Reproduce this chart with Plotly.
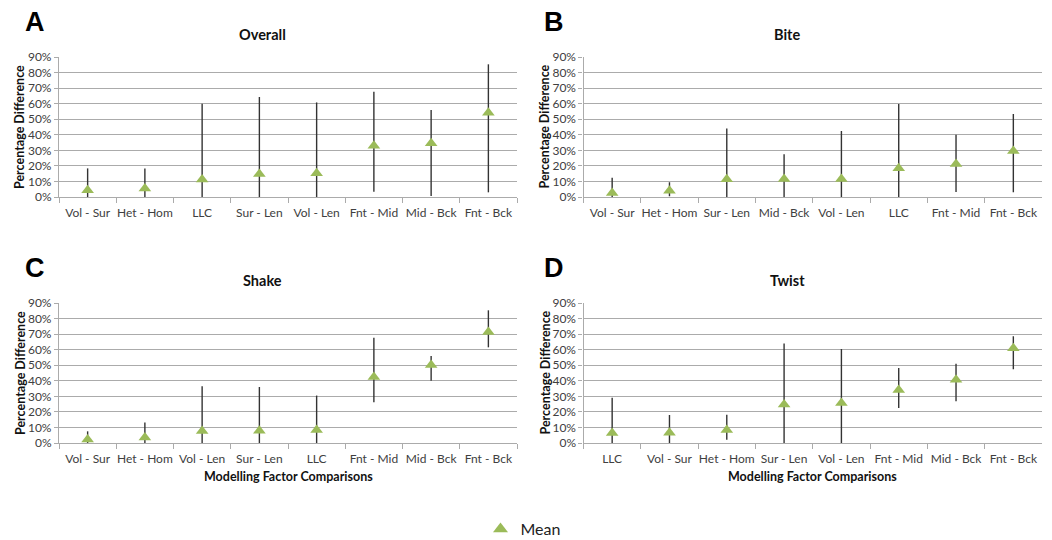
import plotly.graph_objects as go

W, H = 1052, 540

# ---------------- data ----------------
overall_cats = ["Vol - Sur", "Het - Hom", "LLC", "Sur - Len", "Vol - Len", "Fnt - Mid", "Mid - Bck", "Fnt - Bck"]
overall_mean = [4.3, 5.5, 11.3, 14.8, 15.3, 33.0, 34.5, 54.2]
overall_low = [0, 0, 0, 0, 0, 3.4, 0.6, 3.0]
overall_high = [18.4, 18.4, 60.0, 64.3, 60.8, 67.7, 56.0, 85.3]

bite_cats = ["Vol - Sur", "Het - Hom", "Sur - Len", "Mid - Bck", "Vol - Len", "LLC", "Fnt - Mid", "Fnt - Bck"]
bite_mean = [2.6, 4.0, 11.4, 11.6, 11.6, 18.5, 21.2, 29.6]
bite_low = [0, 0.5, 0, 0, 0, 0, 3.2, 3.0]
bite_high = [12.4, 9.5, 44.0, 27.5, 42.5, 59.8, 40.0, 53.3]

shake_cats = ["Vol - Sur", "Het - Hom", "Vol - Len", "Sur - Len", "LLC", "Fnt - Mid", "Mid - Bck", "Fnt - Bck"]
shake_mean = [2.2, 3.5, 7.7, 7.9, 8.4, 42.5, 50.2, 71.4]
shake_low = [0, 0, 0, 0, 0, 26.2, 40.0, 61.5]
shake_high = [7.5, 13.1, 36.5, 36.0, 30.5, 67.7, 56.0, 85.3]

twist_cats = ["LLC", "Vol - Sur", "Het - Hom", "Sur - Len", "Vol - Len", "Fnt - Mid", "Mid - Bck", "Fnt - Bck"]
twist_mean = [6.4, 6.6, 8.3, 24.7, 25.7, 34.0, 40.7, 60.9]
twist_low = [0, 0, 2.1, 0, 0, 22.5, 26.8, 47.4]
twist_high = [29.1, 18.0, 18.2, 63.9, 60.4, 48.2, 51.0, 68.6]

y_ticks = [0, 10, 20, 30, 40, 50, 60, 70, 80, 90]
y_tick_labels = ["0%", "10%", "20%", "30%", "40%", "50%", "60%", "70%", "80%", "90%"]

panels = [
    ("A", "Overall", overall_cats, overall_mean, overall_low, overall_high),
    ("B", "Bite", bite_cats, bite_mean, bite_low, bite_high),
    ("C", "Shake", shake_cats, shake_mean, shake_low, shake_high),
    ("D", "Twist", twist_cats, twist_mean, twist_low, twist_high),
]

# ---------------- styling ----------------
FONT = "Lato, 'Open Sans', sans-serif"
GREEN = "#9BBB59"
GRID = "#ababab"
TXT = "#404040"
# pixel boxes: (left, right, top, bottom)
boxes = [(59, 517, 57, 197), (583.5, 1042, 57, 197), (59, 517, 303, 443), (583.5, 1042, 303, 443)]

fig = go.Figure()
layout = dict(
    width=W, height=H, margin=dict(l=0, r=0, t=0, b=0, autoexpand=False),
    paper_bgcolor="white", plot_bgcolor="white",
    font=dict(family=FONT, color=TXT, size=11),
    showlegend=True,
    legend=dict(orientation="h", x=(W / 2 - 3) / W, xanchor="center", y=(H - 529) / H, yanchor="middle",
                font=dict(size=16, color="#222222", family=FONT), itemwidth=30,
                bgcolor="rgba(0,0,0,0)"),
)
annotations = []

for i, (letter, title, cats, mean, low, high) in enumerate(panels):
    n = i + 1
    xa = "x" if n == 1 else f"x{n}"
    ya = "y" if n == 1 else f"y{n}"
    l, r, t, b = boxes[i]
    plus = [h - m for h, m in zip(high, mean)]
    minus = [m - lo for m, lo in zip(mean, low)]
    fig.add_trace(go.Scatter(
        x=cats, y=mean, xaxis=xa, yaxis=ya, mode="markers", showlegend=False,
        marker=dict(symbol="triangle-up", size=11, color=GREEN),
        error_y=dict(type="data", symmetric=False, array=plus, arrayminus=minus,
                     width=0, thickness=1.4, color="#333333"),
        cliponaxis=False,
    ))
    xkey = "xaxis" if n == 1 else f"xaxis{n}"
    ykey = "yaxis" if n == 1 else f"yaxis{n}"
    layout[xkey] = dict(
        domain=[l / W, r / W], anchor=ya, type="category", tickson="boundaries",
        ticks="outside", ticklen=5, tickcolor=GRID, showgrid=False, tickangle=0,
        ticklabelstandoff=4,
        showline=True, linecolor=GRID, linewidth=1.2,
        tickfont=dict(size=12, color=TXT), range=[-0.5, 7.5],
    )
    layout[ykey] = dict(
        domain=[1 - b / H, 1 - t / H], anchor=xa, range=[0, 90], tickmode="array",
        tickvals=y_ticks, ticktext=y_tick_labels, ticks="outside", ticklen=4, tickcolor=GRID,
        showgrid=True, gridcolor=GRID, gridwidth=1.3,
        showline=True, linecolor=GRID, linewidth=1.2, zeroline=False,
        tickfont=dict(size=12, color=TXT),
    )
    # panel title
    chart_center = 262 if l < 300 else 787
    annotations.append(dict(text=f"<b>{title}</b>", x=chart_center / W, y=1 - (t - 23) / H,
                            xref="paper", yref="paper", showarrow=False,
                            font=dict(size=14.5, color="#111111", family=FONT),
                            xanchor="center", yanchor="middle"))
    # panel letter
    annotations.append(dict(text=f"<b>{letter}</b>", x=(35 if l < 300 else 554) / W,
                            y=1 - (t - 35) / H, xref="paper", yref="paper", showarrow=False,
                            font=dict(size=27, color="#000000", family="Liberation Sans, Arial, sans-serif"),
                            xanchor="center", yanchor="middle"))
    # y-axis title
    annotations.append(dict(text="<b>Percentage Difference</b>", x=(l - 39) / W,
                            y=1 - ((t + b) / 2) / H, xref="paper", yref="paper",
                            showarrow=False, textangle=-90,
                            font=dict(size=12.5, color="#111111", family=FONT),
                            xanchor="center", yanchor="middle"))
    if i >= 2:
        annotations.append(dict(text="<b>Modelling Factor Comparisons</b>", x=((l + r) / 2) / W,
                                y=1 - (b + 33) / H, xref="paper", yref="paper", showarrow=False,
                                font=dict(size=12.5, color="#111111", family=FONT),
                                xanchor="center", yanchor="middle"))

# legend-only entry
fig.add_trace(go.Scatter(x=[None], y=[None], mode="markers", name="Mean",
                         marker=dict(symbol="triangle-up", size=13, color=GREEN),
                         xaxis="x", yaxis="y"))

layout["annotations"] = annotations
fig.update_layout(**layout)
fig.write_html("out.html")
